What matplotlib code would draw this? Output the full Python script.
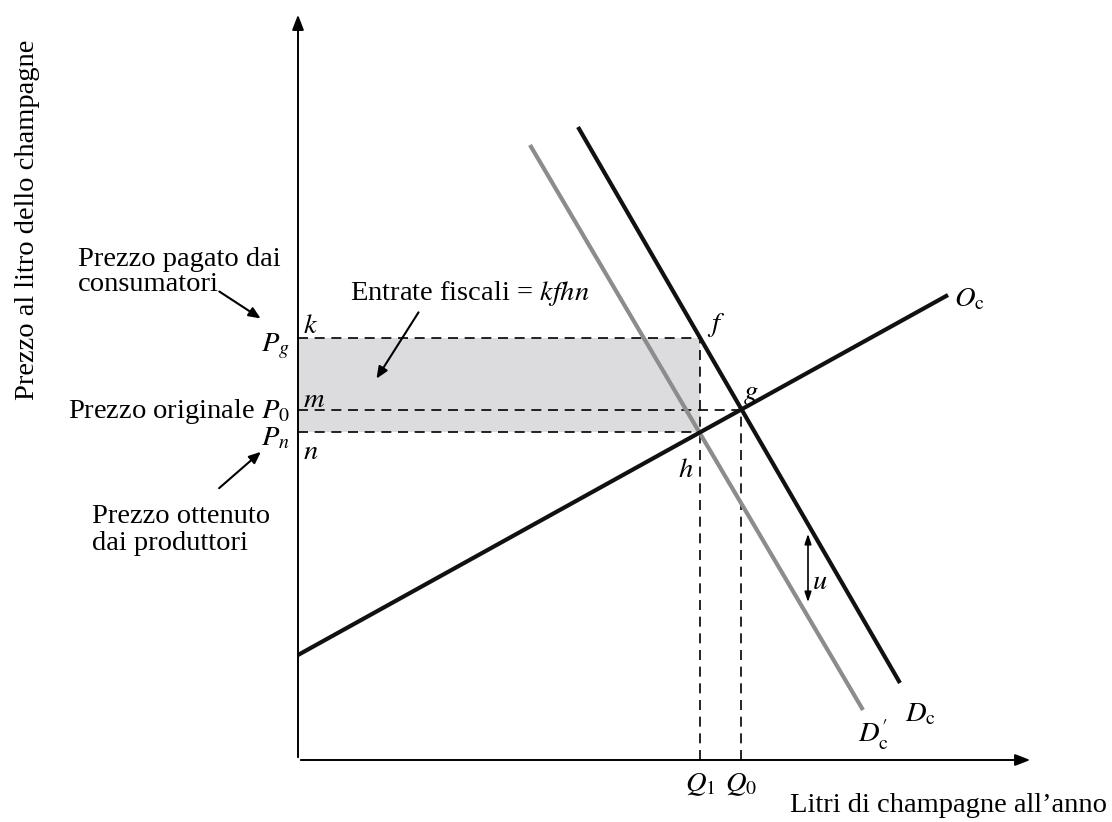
import matplotlib
matplotlib.use("Agg")
import matplotlib.pyplot as plt
from matplotlib.patches import Rectangle

plt.rcParams['font.family'] = ['Liberation Serif', 'DejaVu Serif']
plt.rcParams['mathtext.fontset'] = 'stix'

# chart values (arbitrary units: quantity, price)
q1, q0 = 40.2, 44.3
p_g, p_0, p_n = 42.2, 35.0, 32.8
supply_q = [0.0, 65.0]
supply_p = [10.5, 46.5]
demand_q = [28.0, 60.2]
demand_p = [63.3, 7.7]
demand_tax_q = [23.2, 56.5]
demand_tax_p = [61.5, 5.0]
u_q = 51.0
u_p = [22.9, 15.5]
x_max, y_max = 73.5, 74.8

fig = plt.figure(figsize=(11.12, 8.22), dpi=100)
ax = fig.add_axes([0, 0, 1, 1])
ax.set_xlim(-29.8, 81.4)
ax.set_ylim(-6.2, 76.0)
ax.axis('off')

fs = 20.5
dash = dict(color='black', lw=1.2, ls=(0, (6, 4)))
small_arrow = dict(arrowstyle='-|>,head_length=0.7,head_width=0.3', lw=1.5, color='black')

# axes with arrows
ax.annotate('', xy=(x_max, 0), xytext=(0, 0),
            arrowprops=dict(arrowstyle='-|>,head_length=0.9,head_width=0.35', lw=1.4, color='black'))
ax.annotate('', xy=(0, y_max), xytext=(0, 0),
            arrowprops=dict(arrowstyle='-|>,head_length=0.9,head_width=0.35', lw=1.4, color='black'))

# tax revenue rectangle
ax.add_patch(Rectangle((0, p_n), q1, p_g - p_n, facecolor='#dcdcdf', edgecolor='none', zorder=0))

# dashed guides
ax.plot([0, q1], [p_g, p_g], **dash)
ax.plot([0, q0], [p_0, p_0], **dash)
ax.plot([0, q1], [p_n, p_n], **dash)
ax.plot([q1, q1], [0, p_g], **dash)
ax.plot([q0, q0], [0, p_0], **dash)

# curves
ax.plot(demand_tax_q, demand_tax_p, color='#8c8c8c', lw=3.0, solid_capstyle='butt')
ax.plot(demand_q, demand_p, color='#111111', lw=3.0, solid_capstyle='butt')
ax.plot(supply_q, supply_p, color='#111111', lw=3.0, solid_capstyle='butt')

# tax wedge arrow u
ax.annotate('', xy=(u_q, u_p[0]), xytext=(u_q, u_p[1]),
            arrowprops=dict(arrowstyle='<|-|>,head_length=0.6,head_width=0.2', lw=1.2, color='black'))
ax.text(u_q + 0.4, 17.8, r'$u$', fontsize=fs, va='center', ha='left')

# curve labels
ax.text(65.6, 46.0, r'$O_{\mathrm{c}}$', fontsize=fs, va='center', ha='left')
ax.text(60.7, 4.5, r'$D_{\mathrm{c}}$', fontsize=fs, va='center', ha='left')
ax.text(56.0, 2.5, r'$D^{\prime}_{\mathrm{c}}$', fontsize=fs, va='center', ha='left')
ax.text(q1 + 0.7, 43.5, r'$f$', fontsize=fs, va='center', ha='left')
ax.text(q0 + 0.2, 36.6, r'$g$', fontsize=fs, va='center', ha='left')
ax.text(q1 - 1.4, 29.0, r'$h$', fontsize=fs, va='center', ha='center')
ax.text(q1, -2.5, r'$Q_1$', fontsize=fs, va='center', ha='center')
ax.text(q0, -2.5, r'$Q_0$', fontsize=fs, va='center', ha='center')

# price labels
ax.text(0.5, p_g + 1.2, r'$k$', fontsize=fs, va='center', ha='left')
ax.text(0.5, p_0 + 1.0, r'$m$', fontsize=fs, va='center', ha='left')
ax.text(0.5, p_n - 2.0, r'$n$', fontsize=fs, va='center', ha='left')
ax.text(-0.8, p_g - 0.8, r'$P_g$', fontsize=fs, va='center', ha='right')
ax.text(-0.8, p_0 - 0.1, r'Prezzo originale $P_0$', fontsize=fs, va='center', ha='right')
ax.text(-0.8, p_n - 0.7, r'$P_n$', fontsize=fs, va='center', ha='right')

ax.text(-22.0, 48.8, 'Prezzo pagato dai\nconsumatori', fontsize=fs, va='center', ha='left',
        linespacing=1.05)
ax.annotate('', xy=(-3.5, 44.0), xytext=(-8.1, 47.0), arrowprops=small_arrow)
ax.text(-20.6, 23.0, 'Prezzo ottenuto\ndai produttori', fontsize=fs, va='center', ha='left',
        linespacing=1.15)
ax.annotate('', xy=(-3.5, 31.0), xytext=(-8.1, 27.0), arrowprops=small_arrow)

ax.text(5.2, 46.7, r'Entrate fiscali = $kfhn$', fontsize=fs, va='center', ha='left')
ax.annotate('', xy=(7.7, 37.9), xytext=(12.2, 45.0), arrowprops=small_arrow)

# axis titles
ax.text(-27.0, 54.0, 'Prezzo al litro dello champagne', fontsize=fs, rotation=90,
        va='center', ha='center')
ax.text(49.2, -4.5, 'Litri di champagne all\u2019anno', fontsize=fs, va='center', ha='left')

fig.savefig('out.png', dpi=100)
